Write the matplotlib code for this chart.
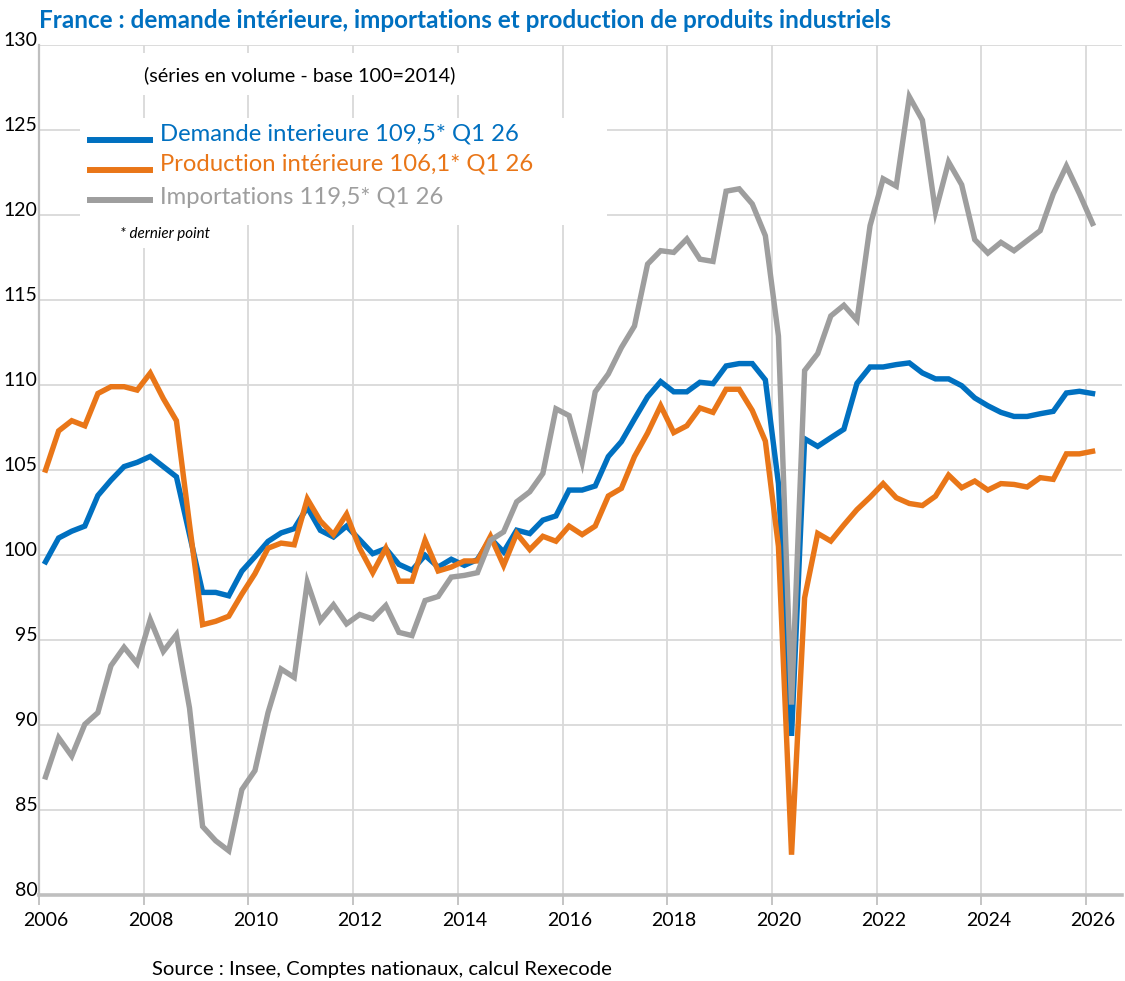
import numpy as np
import pandas as pd
import matplotlib
matplotlib.use("Agg")
import matplotlib.pyplot as plt
from matplotlib.lines import Line2D
from matplotlib.patches import Rectangle
from matplotlib.transforms import ScaledTranslation

plt.rcParams['font.family'] = ['Lato', 'DejaVu Sans']

# ---------------- data (quarterly, 2006Q1 .. 2026Q1) ----------------
quarters = pd.period_range('2006Q1', '2026Q1', freq='Q')

demande = [99.6, 101.0, 101.4, 101.7, 103.5, 104.4, 105.2, 105.45, 105.8, 105.2,
           104.6, 101.2, 97.8, 97.8, 97.6, 99.05, 99.9, 100.8, 101.3, 101.55,
           102.8, 101.45, 101.06, 101.7, 100.9, 100.08, 100.38, 99.45, 99.1, 99.98,
           99.29, 99.75, 99.39, 99.73, 100.97, 100.18, 101.46, 101.26, 102.05, 102.3,
           103.82, 103.82, 104.06, 105.79, 106.67, 108.0, 109.3, 110.2, 109.6, 109.6,
           110.16, 110.08, 111.12, 111.26, 111.26, 110.3, 104.2, 89.36, 106.84, 106.39,
           106.9, 107.4, 110.1, 111.06, 111.06, 111.2, 111.3, 110.71, 110.36, 110.36,
           109.96, 109.24, 108.78, 108.39, 108.15, 108.15, 108.31, 108.45, 109.53, 109.63,
           109.5]

production = [105.0, 107.3, 107.9, 107.6, 109.5, 109.9, 109.9, 109.7, 110.7, 109.2,
              107.9, 101.8, 95.9, 96.1, 96.4, 97.7, 98.9, 100.4, 100.7, 100.6,
              103.3, 102.0, 101.2, 102.4, 100.4, 98.96, 100.4, 98.46, 98.46, 100.87,
              99.06, 99.29, 99.65, 99.65, 101.1, 99.39, 101.26, 100.32, 101.1, 100.81,
              101.7, 101.2, 101.7, 103.47, 103.92, 105.79, 107.17, 108.78, 107.2, 107.6,
              108.65, 108.39, 109.75, 109.75, 108.5, 106.7, 100.5, 82.37, 97.48, 101.27,
              100.82, 101.77, 102.67, 103.4, 104.2, 103.37, 103.03, 102.91, 103.46, 104.7,
              103.96, 104.35, 103.82, 104.2, 104.15, 104.0, 104.55, 104.45, 105.95, 105.95,
              106.1]

importations = [86.95, 89.25, 88.17, 90.04, 90.73, 93.49, 94.57, 93.62, 96.2, 94.33,
                95.32, 91.0, 84.03, 83.19, 82.6, 86.2, 87.32, 90.73, 93.29, 92.8,
                98.4, 96.14, 97.07, 95.95, 96.5, 96.24, 97.03, 95.45, 95.26, 97.32,
                97.56, 98.7, 98.8, 98.96, 100.87, 101.36, 103.13, 103.72, 104.8, 108.6,
                108.2, 105.45, 109.6, 110.65, 112.2, 113.47, 117.11, 117.9, 117.8, 118.59,
                117.4, 117.27, 121.4, 121.54, 120.65, 118.78, 112.88, 91.2, 110.85, 111.85,
                114.06, 114.69, 113.82, 119.37, 122.13, 121.7, 126.96, 125.58, 120.2, 123.12,
                121.78, 118.55, 117.76, 118.39, 117.9, 118.49, 119.08, 121.25, 122.88, 121.25,
                119.5]

labels = ['Demande interieure 109,5* Q1 26',
          'Production intérieure 106,1* Q1 26',
          'Importations 119,5* Q1 26']
colors = ['#0070C0', '#E97618', '#9E9E9E']

year_ticks = list(range(2006, 2027, 2))
value_ticks = list(range(80, 131, 5))

# mid-quarter positions in fractional years
xpos = np.array([q.year + (q.quarter - 0.5) / 4 for q in quarters])

# ---------------- figure ----------------
W, H = 1125, 981
fig = plt.figure(figsize=(W / 100, H / 100), dpi=100)

def fx(x):
    return x / W

def fy(y):
    return 1 - y / H

L, R, T, B = 39, 1122, 45, 895
ax = fig.add_axes([fx(L), fy(B), (R - L) / W, (B - T) / H])
px_per_year = 52.35
ax.set_xlim(2006, 2006 + (R - L) / px_per_year)
ax.set_ylim(80, 130)
ax.set_xticks(year_ticks)
ax.set_yticks(value_ticks)
ax.grid(True, color='#D9D9D9', lw=1.3)
ax.set_axisbelow(True)
for s in ['top', 'right']:
    ax.spines[s].set_visible(False)
ax.spines['left'].set_color('#BFBFBF')
ax.spines['left'].set_linewidth(1.6)
ax.spines['bottom'].set_color('#BFBFBF')
ax.spines['bottom'].set_linewidth(2.6)
ax.tick_params(axis='x', length=7, width=1.3, color='#BFBFBF', labelsize=14, pad=5)
ax.tick_params(axis='y', length=0, labelsize=14, pad=1)

for lab in ax.get_yticklabels():
    lab.set_transform(lab.get_transform() + ScaledTranslation(0, 6 / 100, fig.dpi_scale_trans))
for lab in ax.get_xticklabels():
    lab.set_transform(lab.get_transform() + ScaledTranslation(7 / 100, 0, fig.dpi_scale_trans))

# white boxes hiding gridlines behind texts
def px_rect(x0, y0, x1, y1):
    ax0 = (x0 - L) / (R - L)
    ax1 = (x1 - L) / (R - L)
    ay0 = (B - y1) / (B - T)
    ay1 = (B - y0) / (B - T)
    ax.add_patch(Rectangle((ax0, ay0), ax1 - ax0, ay1 - ay0, transform=ax.transAxes,
                           facecolor='white', edgecolor='none', zorder=1.5, clip_on=False))

px_rect(135, 53, 470, 95)
px_rect(80, 118, 607, 225)
px_rect(110, 222, 235, 248)

# data lines (blue, orange, gray on top)
for series, c, z in [(demande, colors[0], 3), (production, colors[1], 4), (importations, colors[2], 5)]:
    ax.plot(xpos, series, color=c, lw=3.9, zorder=z, solid_joinstyle='miter')

# texts
fig.text(fx(39), fy(21), 'France : demande intérieure, importations et production de produits industriels',
         fontsize=17.5, fontweight='bold', color='#0070C0', ha='left', va='center')
fig.text(fx(144), fy(75), '(séries en volume - base 100=2014)', fontsize=14.3, ha='left', va='center')

for k, (lab, c) in enumerate(zip(labels, colors)):
    ly = [140, 170, 200][k]
    ty = [134, 164, 197][k]
    fig.add_artist(Line2D([fx(90), fx(150)], [fy(ly), fy(ly)], color=c, lw=4.3))
    fig.text(fx(160), fy(ty), lab, fontsize=17.2, color=c, ha='left', va='center')

fig.text(fx(120), fy(234), '* dernier point', fontsize=10.9, style='italic', ha='left', va='center')
fig.text(fx(152), fy(970), 'Source : Insee, Comptes nationaux, calcul Rexecode', fontsize=14.6,
         ha='left', va='center')

fig.savefig('out.png', dpi=100)
